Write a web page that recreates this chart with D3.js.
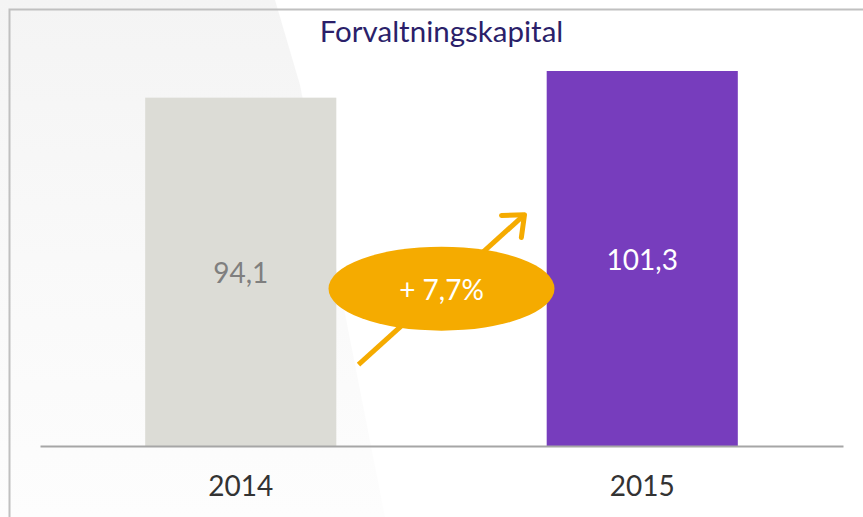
<!DOCTYPE html>
<html>
<head>
<meta charset="utf-8">
<script src="https://cdn.jsdelivr.net/npm/d3@7"></script>
<style>
  body { margin: 0; background: #fff; }
  svg { display: block; }
</style>
</head>
<body>
<svg id="chart" width="863" height="517"></svg>
<script>
// data
var years = ["2014", "2015"];
var values = [94.1, 101.3];
var valueLabels = ["94,1", "101,3"];
var chartTitle = "Forvaltningskapital";

make_chart = function () {

    var width = 863, height = 517;
    var margin = { top: 71, right: 20, bottom: 71, left: 40 };

    var svg = d3.select("#chart");

    // soft background panel on the left
    var defs = svg.append("defs");
    var grad = defs.append("linearGradient")
        .attr("id", "bgfade")
        .attr("x1", 0).attr("y1", 0).attr("x2", 0).attr("y2", 1);
    grad.append("stop").attr("offset", "0%").attr("stop-color", "#f4f4f4");
    grad.append("stop").attr("offset", "50%").attr("stop-color", "#f9f9f9");
    grad.append("stop").attr("offset", "100%").attr("stop-color", "#fdfdfd");

    svg.append("path")
        .attr("d", "M0,0 L275,0 L300,85 L385,517 L0,517 Z")
        .attr("fill", "url(#bgfade)");

    // frame
    svg.append("path")
        .attr("d", "M9.5,517 L9.5,9.5 L863,9.5")
        .attr("fill", "none")
        .attr("stroke", "#c0c0c0")
        .attr("stroke-width", 2);

    x = d3.scaleBand()
        .domain(years)
        .range([margin.left, width - margin.right])
        .paddingInner(0.524)
        .paddingOuter(0.262);

    y = d3.scaleLinear()
        .domain([0, d3.max(values)])
        .range([height - margin.bottom, margin.top]);

    var colors = ["#dcdcd6", "#773dbd"];
    var labelColors = ["#7f7f7f", "#ffffff"];

    svg.append("g")
        .selectAll("rect")
        .data(years)
        .join("rect")
        .attr("x", d => x(d))
        .attr("y", (d, i) => y(values[i]))
        .attr("width", x.bandwidth())
        .attr("height", (d, i) => y(0) - y(values[i]))
        .attr("fill", (d, i) => colors[i]);

    // value labels centred inside bars
    svg.append("g")
        .attr("font-family", "Lato, 'Open Sans', sans-serif")
        .attr("font-size", 28)
        .attr("text-anchor", "middle")
        .selectAll("text")
        .data(years)
        .join("text")
        .attr("x", d => x(d) + x.bandwidth() / 2)
        .attr("y", (d, i) => (y(values[i]) + y(0)) / 2 + 11)
        .attr("fill", (d, i) => labelColors[i])
        .text((d, i) => valueLabels[i]);

    // baseline / x axis
    var xAxis = g => g
        .attr("transform", `translate(0,${y(0)})`)
        .call(d3.axisBottom(x).tickSize(0).tickPadding(30))
        .call(g => g.select(".domain").attr("stroke", "#a6a6a6").attr("stroke-width", 2))
        .call(g => g.selectAll(".tick text")
            .attr("font-family", "Lato, 'Open Sans', sans-serif")
            .attr("font-size", 28)
            .attr("fill", "#333333"));

    svg.append("g").call(xAxis);

    // title
    svg.append("text")
        .attr("x", width / 2 + 10)
        .attr("y", 42)
        .attr("text-anchor", "middle")
        .attr("font-family", "Lato, 'Open Sans', sans-serif")
        .attr("font-size", 29.5)
        .attr("fill", "#2b1f6a")
        .text(chartTitle);

    // growth annotation
    var gap0 = x(years[0]) + x.bandwidth();
    var gap1 = x(years[1]);
    var cx = (gap0 + gap1) / 2;
    var cy = y(42.5);
    var change = (values[1] / values[0] - 1) * 100;
    var orange = "#f5ab00";

    var ax0 = cx - 83, ay0 = y(22);
    var ax1 = cx + 83, ay1 = y(62.5);
    var ang = Math.atan2(ay1 - ay0, ax1 - ax0);
    var head = 23, spread = 0.7;

    svg.append("line")
        .attr("x1", ax0).attr("y1", ay0)
        .attr("x2", ax1).attr("y2", ay1)
        .attr("stroke", orange)
        .attr("stroke-width", 5);

    svg.append("path")
        .attr("d", `M${ax1 - head * Math.cos(ang - spread)},${ay1 - head * Math.sin(ang - spread)}
                    L${ax1},${ay1}
                    L${ax1 - head * Math.cos(ang + spread)},${ay1 - head * Math.sin(ang + spread)}`)
        .attr("fill", "none")
        .attr("stroke", orange)
        .attr("stroke-width", 5)
        .attr("stroke-linecap", "round")
        .attr("stroke-linejoin", "round");

    svg.append("ellipse")
        .attr("cx", cx)
        .attr("cy", cy)
        .attr("rx", 113)
        .attr("ry", 42)
        .attr("fill", orange);

    svg.append("text")
        .attr("x", cx)
        .attr("y", cy + 11)
        .attr("text-anchor", "middle")
        .attr("font-family", "Lato, 'Open Sans', sans-serif")
        .attr("font-size", 28)
        .attr("fill", "#ffffff")
        .text("+ " + change.toFixed(1).replace(".", ",") + "%");
}

make_chart();
</script>
</body>
</html>
